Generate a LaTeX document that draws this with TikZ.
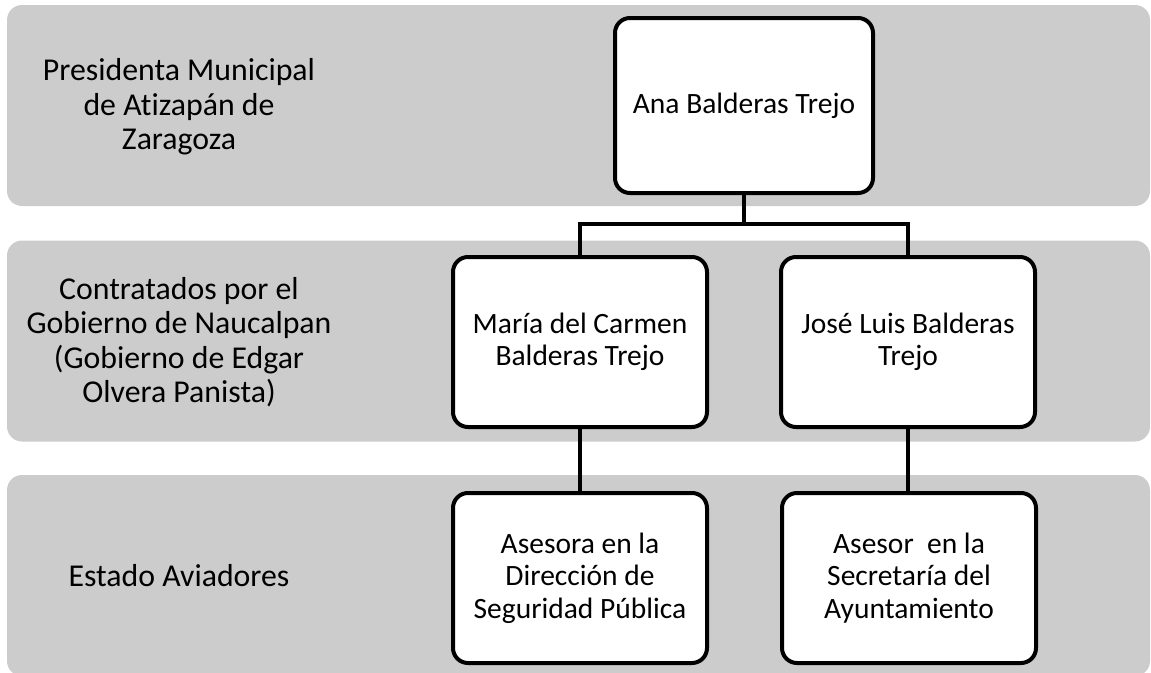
\documentclass[tikz,border=0pt]{standalone}
\usepackage{fontspec}
\setmainfont[Ligatures=NoCommon]{Carlito}
\usepackage{tikz}
\usetikzlibrary{positioning,calc}

\tikzset{
  band/.style={fill=black!20,rounded corners=15pt,minimum width=1143pt,minimum height=201pt,inner sep=0pt},
  lbl/.style={align=center,font=\fontsize{31.8}{34.5}\selectfont},
  person/.style={draw,line width=4pt,fill=white,rounded corners=15pt,align=center,
    minimum width=254pt,minimum height=170pt,font=\fontsize{29.5}{32.5}\selectfont},
  conn/.style={line width=4pt}
}

\begin{document}
\begin{tikzpicture}[x=1pt,y=-1pt]
  \useasboundingbox (0,0) rectangle (1151,672);
  \clip (0,0) rectangle (1151,672);
  % background bands
  \node[band] (band1) at (578.5,105.5) {};
  \node[band] (band2) at (578.5,341) {};
  \node[band] (band3) at (578.5,575.5) {};
  % row labels
  \node[lbl] (lbl1) at (179,107) {Presidenta Municipal\\de Atizapán de\\Zaragoza};
  \node[lbl] (lbl2) at (179,342) {Contratados por el\\Gobierno de Naucalpan\\(Gobierno de Edgar\\Olvera Panista)};
  \node[lbl] (lbl3) at (179,576) {Estado Aviadores};
  % people
  \node[person,minimum width=258pt,minimum height=175pt] (ana) at (744,105.5) {Ana Balderas Trejo};
  \node[person] (maria) at (580,342) {María del Carmen\\Balderas Trejo};
  \node[person] (jose) at (908,342) {José Luis Balderas\\Trejo};
  \node[person] (asesora) at (580,578) {Asesora en la\\Dirección de\\Seguridad Pública};
  \node[person] (asesor) at (909,578) {Asesor\ \ en la\\Secretaría del\\Ayuntamiento};
  % connectors
  \coordinate (split) at (744,224);
  \draw[conn] (ana.south) -- (split);
  \draw[conn] (maria.north) |- (split) -| (jose.north);
  \draw[conn] (maria.south) -- (asesora.north);
  \draw[conn] (jose.south) -- (jose.south |- asesor.north);
\end{tikzpicture}
\end{document}
